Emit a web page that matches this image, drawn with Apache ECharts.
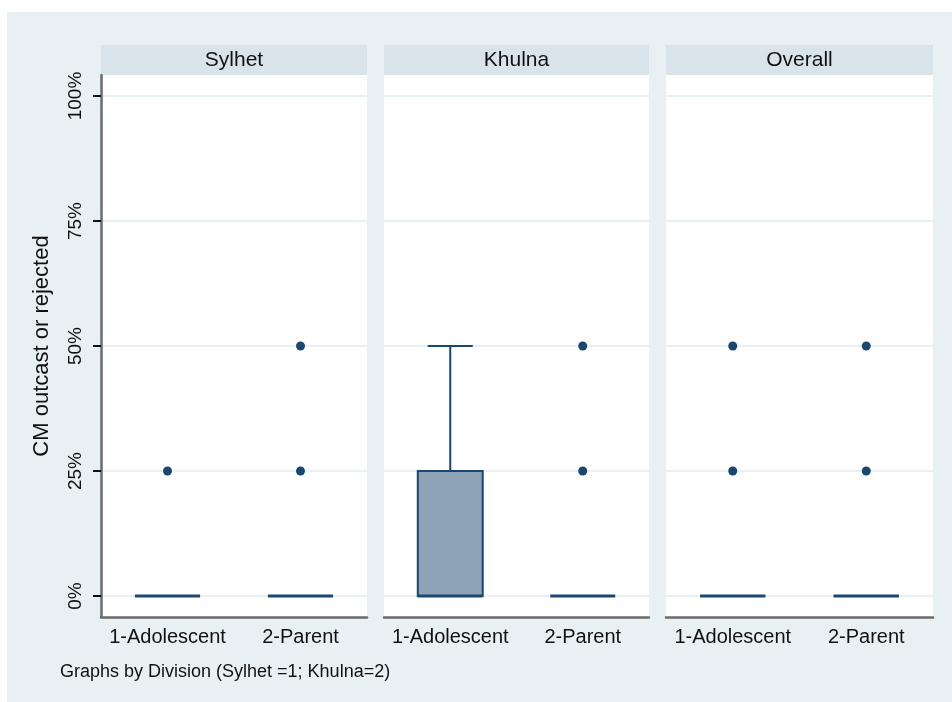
<!DOCTYPE html>
<html>
<head>
<meta charset="utf-8">
<script src="https://cdn.jsdelivr.net/npm/echarts@6/dist/echarts.min.js"></script>
<style>
  html, body { margin: 0; padding: 0; background: #fff; }
  #wrap { position: relative; width: 952px; height: 702px; }
  #bg { position: absolute; left: 7px; top: 12px; width: 945px; height: 690px; background: #e8f0f3; }
  #chart { position: absolute; left: 0; top: 0; width: 952px; height: 702px; }
</style>
</head>
<body>
<div id="wrap">
  <div id="bg"></div>
  <div id="chart"></div>
</div>
<script>
// groups on the x axis and the panels (by division)
const categories = ['1-Adolescent', '2-Parent'];
const panels = ['Sylhet', 'Khulna', 'Overall'];
const yTicks = [0, 0.25, 0.5, 0.75, 1];

// box stats per category: [min, q1, median, q3, max]
const sylhetBox = [[0, 0, 0, 0, 0], [0, 0, 0, 0, 0]];
const khulnaBox = [[0, 0, 0, 0.25, 0.5], [0, 0, 0, 0, 0]];
const overallBox = [[0, 0, 0, 0, 0], [0, 0, 0, 0, 0]];

// outside values per category
const sylhetOutliers = [[0.25], [0.25, 0.5]];
const khulnaOutliers = [[], [0.25, 0.5]];
const overallOutliers = [[0.25, 0.5], [0.25, 0.5]];

const boxes = [sylhetBox, khulnaBox, overallBox];
const outliers = [sylhetOutliers, khulnaOutliers, overallOutliers];

const navy = '#1a476f';
const font = 'Liberation Sans, Arial, sans-serif';
const panelLeft = [101, 384, 666];
const panelWidth = [266, 265, 267];

const chart = echarts.init(document.getElementById('chart'));

function renderBox(params, api) {
  const cat = api.value(0);
  const lo = api.value(1), q1 = api.value(2), med = api.value(3), q3 = api.value(4), hi = api.value(5);
  const band = api.size([1, 0])[0];
  const bw = band * 0.49, cw = band * 0.34;
  const x = api.coord([cat, 0])[0];
  const y = v => api.coord([cat, v])[1];
  const kids = [];
  const lineStyle = { stroke: navy, lineWidth: 2 };
  if (hi > q3) {
    kids.push({ type: 'line', shape: { x1: x, y1: y(q3), x2: x, y2: y(hi) }, style: lineStyle });
    kids.push({ type: 'line', shape: { x1: x - cw / 2, y1: y(hi), x2: x + cw / 2, y2: y(hi) }, style: lineStyle });
  }
  if (lo < q1) {
    kids.push({ type: 'line', shape: { x1: x, y1: y(q1), x2: x, y2: y(lo) }, style: lineStyle });
    kids.push({ type: 'line', shape: { x1: x - cw / 2, y1: y(lo), x2: x + cw / 2, y2: y(lo) }, style: lineStyle });
  }
  if (q3 > q1) {
    kids.push({
      type: 'rect',
      shape: { x: x - bw / 2, y: y(q3), width: bw, height: y(q1) - y(q3) },
      style: { fill: '#8ea3b6', stroke: navy, lineWidth: 2 }
    });
  }
  kids.push({ type: 'line', shape: { x1: x - bw / 2, y1: y(med), x2: x + bw / 2, y2: y(med) }, style: { stroke: navy, lineWidth: 3 } });
  return { type: 'group', children: kids };
}

const grids = [], xAxes = [], yAxes = [], series = [], graphics = [];

panels.forEach((name, i) => {
  grids.push({
    left: panelLeft[i], width: panelWidth[i], top: 75, height: 542,
    show: true, backgroundColor: '#fff', borderWidth: 0
  });
  xAxes.push({
    type: 'category', gridIndex: i, data: categories, boundaryGap: true,
    axisLine: { onZero: false, lineStyle: { color: '#6b6b6b', width: 2.5 } },
    axisTick: { show: false },
    axisLabel: { interval: 0, color: '#111', fontSize: 20, fontFamily: font, margin: 10 }
  });
  yAxes.push({
    type: 'value', gridIndex: i, min: -0.042, max: 1.042,
    axisLine: { show: i === 0, onZero: false, lineStyle: { color: '#6b6b6b', width: 2.5 } },
    axisTick: { show: i === 0, length: 8, customValues: yTicks, lineStyle: { color: '#111', width: 2 } },
    axisLabel: {
      show: i === 0, customValues: yTicks, rotate: 90, margin: 16,
      fontSize: 19, color: '#111', fontFamily: font,
      formatter: v => Math.round(v * 100) + '%'
    },
    splitLine: { show: true, lineStyle: { color: '#e8f0f3', width: 2 } },
    name: i === 0 ? 'CM outcast or rejected' : '',
    nameLocation: 'middle', nameRotate: 90, nameGap: 48,
    nameTextStyle: { fontSize: 22, color: '#111', fontFamily: font }
  });

  series.push({
    type: 'custom', xAxisIndex: i, yAxisIndex: i,
    renderItem: renderBox,
    encode: { x: 0, y: [1, 2, 3, 4, 5] },
    data: boxes[i].map((b, c) => [c].concat(b)),
    z: 3
  });
  const pts = [];
  outliers[i].forEach((vals, c) => vals.forEach(v => pts.push([c, v])));
  series.push({
    type: 'scatter', xAxisIndex: i, yAxisIndex: i,
    data: pts, symbolSize: 9, itemStyle: { color: navy, opacity: 1 }, z: 4
  });

  graphics.push({
    type: 'rect', left: panelLeft[i], top: 45,
    shape: { width: panelWidth[i], height: 30 },
    style: { fill: '#d9e4ea' }
  });
  graphics.push({
    type: 'text', x: panelLeft[i] + panelWidth[i] / 2, y: 60,
    style: { text: name, fill: '#111', font: '21px ' + font, textAlign: 'center', textVerticalAlign: 'middle' }
  });
});

graphics.push({
  type: 'text', x: 60, y: 672,
  style: { text: 'Graphs by Division (Sylhet =1; Khulna=2)', fill: '#111', font: '18px ' + font, textVerticalAlign: 'middle' }
});

chart.setOption({
  animation: false,
  backgroundColor: 'transparent',
  grid: grids,
  xAxis: xAxes,
  yAxis: yAxes,
  series: series,
  graphic: graphics
});
</script>
</body>
</html>
